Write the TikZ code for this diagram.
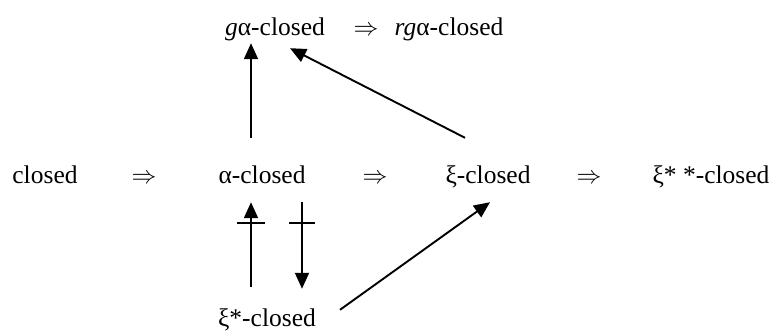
\documentclass[tikz,border=0pt]{standalone}
\usepackage{fontspec}
\setmainfont{Liberation Serif}
\usetikzlibrary{arrows.meta,calc}

\begin{document}
\begin{tikzpicture}[x=1pt,y=-1pt,
    term/.style={inner sep=0pt, anchor=base, text height=18pt, text depth=6pt,
                 font=\fontsize{25.5}{30}\selectfont},
    imp/.style={term},
    arr/.style={line width=1.9pt, -{Triangle[width=14pt,length=16pt]}},
    bar/.style={line width=1.9pt}]
  \useasboundingbox (0,0) rectangle (771,331);

  % top row
  \node[term] (galpha)  at (275,36) {\textit{g}α-closed};
  \node[imp]  (imp0)    at (366,36) {$\Rightarrow$};
  \node[term] (rgalpha) at (449,36) {\textit{rg}α-closed};

  % middle row
  \node[term] (closed) at (45,184)  {closed};
  \node[imp]  (imp1)   at (144,184) {$\Rightarrow$};
  \node[term] (alpha)  at (262,184) {α-closed};
  \node[imp]  (imp2)   at (375,184) {$\Rightarrow$};
  \node[term] (xi)     at (488,184) {ξ-closed};
  \node[imp]  (imp3)   at (589,184) {$\Rightarrow$};
  \node[term] (xiss)   at (711,184) {ξ* *-closed};

  % bottom
  \node[term] (xistar) at (267,326) {ξ*-closed};

  % implications into the top row
  \draw[arr] ($(alpha.north)+(-11,-28)$) -- ($(galpha.south)+(-24,1)$);
  \draw[arr] ($(xi.north)+(-23,-28)$) -- ($(galpha.south)+(15,6)$);

  % non-implications between alpha-closed and xi*-closed
  \draw[arr] ($(xistar.north)+(-16,-21)$) -- ($(alpha.south)+(-11,12)$)
    coordinate[pos=0.753] (cutL);
  \draw[bar] ($(cutL)+(-14,0)$) -- ($(cutL)+(14,0)$);
  \draw[arr] ($(alpha.south)+(40,12)$) -- ($(xistar.north)+(35,-19)$)
    coordinate[pos=0.24] (cutR);
  \draw[bar] ($(cutR)+(-13,0)$) -- ($(cutR)+(13,0)$);

  % xi*-closed implies xi-closed
  \draw[arr] ($(xistar.north)+(73,2)$) -- ($(xi.south)+(2,12)$);
\end{tikzpicture}
\end{document}
